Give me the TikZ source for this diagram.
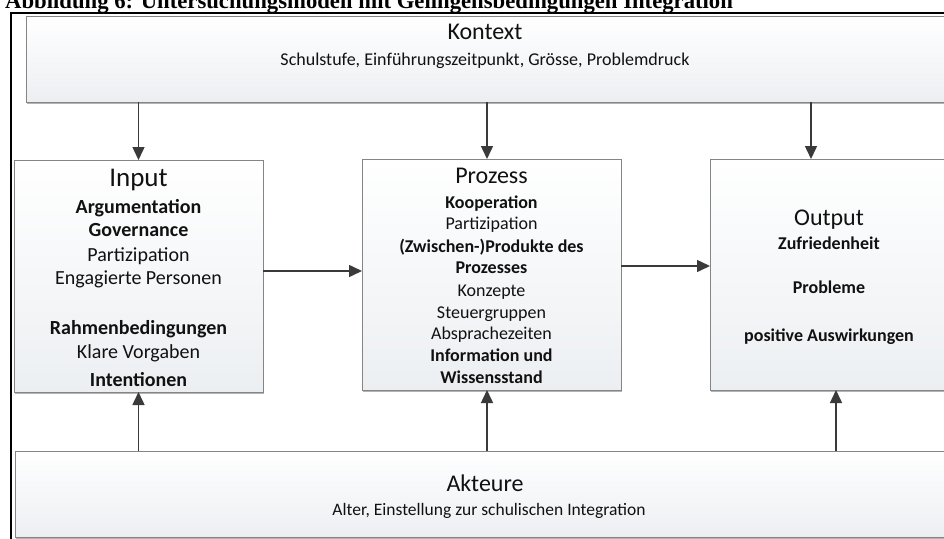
\documentclass[tikz,border=0pt]{standalone}
\usepackage{fontspec}
\setmainfont{Carlito}
\newfontfamily\captionfont{Liberation Serif}
\usetikzlibrary{arrows.meta,shadows}
\definecolor{boxline}{HTML}{858585}
\definecolor{boxshade}{HTML}{ECEFF2}
\definecolor{shadowgrey}{HTML}{B4B4B4}
\definecolor{conn}{HTML}{3A3A3A}
\definecolor{ink}{HTML}{111111}
\begin{document}
\begin{tikzpicture}[x=1pt,y=-1pt,
  panel/.style={draw=boxline, line width=0.9pt, top color=white, bottom color=boxshade,
    inner sep=0pt, outer sep=0pt, anchor=north west,
    drop shadow={shadow xshift=1.2pt, shadow yshift=-1.6pt, fill=shadowgrey, opacity=1}},
  txt/.style={anchor=base, inner sep=0pt, text=ink},
  big/.style={txt, font=\fontsize{24}{28}\selectfont},
  mid/.style={txt, font=\fontsize{18}{22}\selectfont},
  midb/.style={txt, font=\bfseries\fontsize{18}{22}\selectfont},
  inn/.style={txt, font=\fontsize{20}{24}\selectfont},
  innb/.style={txt, font=\bfseries\fontsize{20}{24}\selectfont},
  arr/.style={draw=conn, line width=1.5pt, -{Triangle[length=13pt,width=12pt]}}]
\clip (0,0) rectangle (944,538);

% caption above the frame
\node[anchor=base west, inner sep=0pt, font=\captionfont\bfseries\fontsize{22.7}{26}\selectfont]
  (caption) at (5,8.5) {Abbildung 6: Untersuchungsmodell mit Gelingensbedingungen Integration};

% outer frame
\draw[line width=2pt] (11,12.5) rectangle (990,580);

% panels
\node[panel, minimum width=920pt, minimum height=86pt] (kontext) at (26,16) {};
\node[panel, minimum width=249pt, minimum height=232pt] (input) at (14,160) {};
\node[panel, minimum width=259pt, minimum height=231pt] (prozess) at (362,159) {};
\node[panel, minimum width=238pt, minimum height=231pt] (output) at (710,159) {};
\node[panel, minimum width=945pt, minimum height=86pt] (akteure) at (15,451) {};

% Kontext
\node[big] (kontextT) at (485,39) {Kontext};
\node[mid] (kontextS) at (485,65) {Schulstufe, Einführungszeitpunkt, Grösse, Problemdruck};

% Input
\node[txt, font=\fontsize{27}{30}\selectfont] (inputT) at (138.5,186) {Input};
\node[innb] (in1) at (138.5,213) {Argumentation};
\node[innb] (in2) at (138.5,236) {Governance};
\node[inn]  (in3) at (138.5,261) {Partizipation};
\node[inn]  (in4) at (138.5,284) {Engagierte Personen};
\node[innb] (in5) at (138.5,334) {Rahmenbedingungen};
\node[inn]  (in6) at (138.5,358) {Klare Vorgaben};
\node[innb] (in7) at (138.5,386) {Intentionen};

% Prozess
\node[big]  (prozessT) at (491.5,183) {Prozess};
\node[midb] (pr1) at (491.5,208) {Kooperation};
\node[mid]  (pr2) at (491.5,229) {Partizipation};
\node[midb] (pr3) at (491.5,252) {(Zwischen-)Produkte des};
\node[midb] (pr4) at (491.5,273) {Prozesses};
\node[mid]  (pr5) at (491.5,296) {Konzepte};
\node[mid]  (pr6) at (491.5,318) {Steuergruppen};
\node[mid]  (pr7) at (491.5,339) {Absprachezeiten};
\node[midb] (pr8) at (491.5,361) {Information und};
\node[midb] (pr9) at (491.5,383) {Wissensstand};

% Output
\node[big]  (outputT) at (829,225) {Output};
\node[midb] (ou1) at (829,249) {Zufriedenheit};
\node[midb] (ou2) at (829,293) {Probleme};
\node[midb] (ou3) at (829,341) {positive Auswirkungen};

% Akteure
\node[big] (akteureT) at (485,491) {Akteure};
\node[txt, font=\fontsize{17.5}{21}\selectfont] (akteureS) at (489,515) {Alter, Einstellung zur schulischen Integration};

% connectors from Kontext
\draw[arr] (input.north |- kontext.south) -- (input.north);
\draw[arr] ([xshift=-4.5pt]prozess.north |- kontext.south) -- ([xshift=-4.5pt]prozess.north);
\draw[arr] ([xshift=-18pt]output.north |- kontext.south) -- ([xshift=-18pt]output.north);

% connectors from Akteure
\draw[arr] (input.south |- akteure.north) -- (input.south);
\draw[arr] ([xshift=-4.5pt]prozess.south |- akteure.north) -- ([xshift=-4.5pt]prozess.south);
\draw[arr] ([xshift=7pt]output.south |- akteure.north) -- ([xshift=7pt]output.south);

% horizontal flow
\draw[arr] ([yshift=5pt]input.east) -- ([yshift=5pt]input.east -| prozess.west);
\draw[arr] ([yshift=8.5pt]prozess.east) -- ([yshift=8.5pt]prozess.east -| output.west);
\end{tikzpicture}
\end{document}
